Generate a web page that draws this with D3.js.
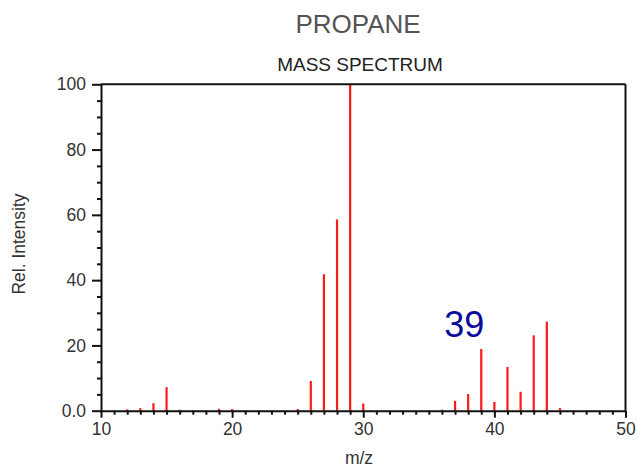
<!DOCTYPE html>
<html>
<head>
<meta charset="utf-8">
<script src="https://cdn.jsdelivr.net/npm/d3@7"></script>
<style>
  html, body { margin: 0; padding: 0; background: #fff; }
  svg { display: block; font-family: "Liberation Sans", Arial, sans-serif; }
</style>
</head>
<body>
<svg id="chart" width="637" height="468"></svg>
<script>
// ---- data ----
const mz        = [12, 13, 14, 15, 16, 19, 20, 25, 26, 27, 28, 29, 30, 36, 37, 38, 39, 40, 41, 42, 43, 44, 45];
const intensity = [0.4, 0.8, 2.3, 7.2, 0.3, 0.6, 0.5, 0.5, 9.1, 41.8, 58.6, 100, 2.2, 0.3, 3.0, 5.1, 18.9, 2.7, 13.4, 5.8, 23.1, 27.3, 0.8];
const xMajorTicks = [10, 20, 30, 40, 50];
const yMajorTicks = [0, 20, 40, 60, 80, 100];
const yTickLabels = ["0.0", "20", "40", "60", "80", "100"];
const title = "PROPANE";
const subtitle = "MASS SPECTRUM";
const xTitle = "m/z";
const yTitle = "Rel. Intensity";
const annotation = { label: "39", mz: 37.7, y: 23 };

// ---- layout ----
const svg = d3.select("#chart");
const x = d3.scaleLinear().domain([10, 50]).range([101, 625.5]);
const y = d3.scaleLinear().domain([0, 100]).range([410.7, 84.3]);
const textColor = "#333";
const fs = 17.5;

// minor ticks
const xMinor = d3.range(10, 51, 1).filter(v => !xMajorTicks.includes(v));
const yMinor = d3.range(0, 101, 5).filter(v => !yMajorTicks.includes(v));

// spectrum lines
svg.append("g").selectAll("line").data(mz).join("line")
  .attr("x1", d => x(d)).attr("x2", d => x(d))
  .attr("y1", y(0)).attr("y2", (d, i) => y(intensity[i]))
  .attr("stroke", "#ff1a1a").attr("stroke-width", 2.2);

// frame top/right
svg.append("line").attr("x1", x(10)).attr("x2", x(50)).attr("y1", y(100)).attr("y2", y(100))
  .attr("stroke", "#111").attr("stroke-width", 2);
svg.append("line").attr("x1", x(50)).attr("x2", x(50)).attr("y1", y(100)).attr("y2", y(0))
  .attr("stroke", "#111").attr("stroke-width", 2);

// x axis minor
svg.append("g").attr("transform", `translate(0,${y(0)})`)
  .call(d3.axisBottom(x).tickValues(xMinor).tickSize(4).tickFormat(""))
  .call(g => g.select(".domain").remove())
  .call(g => g.selectAll("line").attr("stroke", "#111").attr("stroke-width", 2));
// x axis major
svg.append("g").attr("transform", `translate(0,${y(0)})`)
  .call(d3.axisBottom(x).tickValues(xMajorTicks).tickSize(7).tickSizeOuter(0).tickPadding(5).tickFormat(d3.format("d")))
  .call(g => g.select(".domain").attr("stroke", "#111").attr("stroke-width", 2))
  .call(g => g.selectAll("line").attr("stroke", "#111").attr("stroke-width", 2))
  .call(g => g.selectAll("text").attr("font-size", fs).attr("fill", textColor)
        .attr("font-family", "Liberation Sans, Arial, sans-serif"));

// y axis minor
svg.append("g").attr("transform", `translate(${x(10)},0)`)
  .call(d3.axisLeft(y).tickValues(yMinor).tickSize(4).tickFormat(""))
  .call(g => g.select(".domain").remove())
  .call(g => g.selectAll("line").attr("stroke", "#111").attr("stroke-width", 2));
// y axis major
svg.append("g").attr("transform", `translate(${x(10)},0)`)
  .call(d3.axisLeft(y).tickValues(yMajorTicks).tickSize(9).tickSizeOuter(0).tickPadding(6)
        .tickFormat((d, i) => yTickLabels[i]))
  .call(g => g.select(".domain").attr("stroke", "#111").attr("stroke-width", 2))
  .call(g => g.selectAll("line").attr("stroke", "#111").attr("stroke-width", 2))
  .call(g => g.selectAll("text").attr("font-size", fs).attr("fill", textColor)
        .attr("font-family", "Liberation Sans, Arial, sans-serif"));

// titles
svg.append("text").attr("x", 358).attr("y", 33).attr("text-anchor", "middle")
  .attr("font-size", 26).attr("fill", "#555").text(title);
svg.append("text").attr("x", 360).attr("y", 71).attr("text-anchor", "middle")
  .attr("font-size", 19).attr("fill", "#222").text(subtitle);

// axis titles
svg.append("text").attr("x", 359).attr("y", 464).attr("text-anchor", "middle")
  .attr("font-size", fs).attr("fill", textColor).text(xTitle);
svg.append("text").attr("transform", "translate(25,244) rotate(-90)").attr("text-anchor", "middle")
  .attr("font-size", fs).attr("fill", textColor).text(yTitle);

// annotation
svg.append("text").attr("x", x(annotation.mz)).attr("y", y(annotation.y) + 1)
  .attr("text-anchor", "middle").attr("font-size", 36).attr("fill", "#0b0b9c")
  .text(annotation.label);
</script>
</body>
</html>
